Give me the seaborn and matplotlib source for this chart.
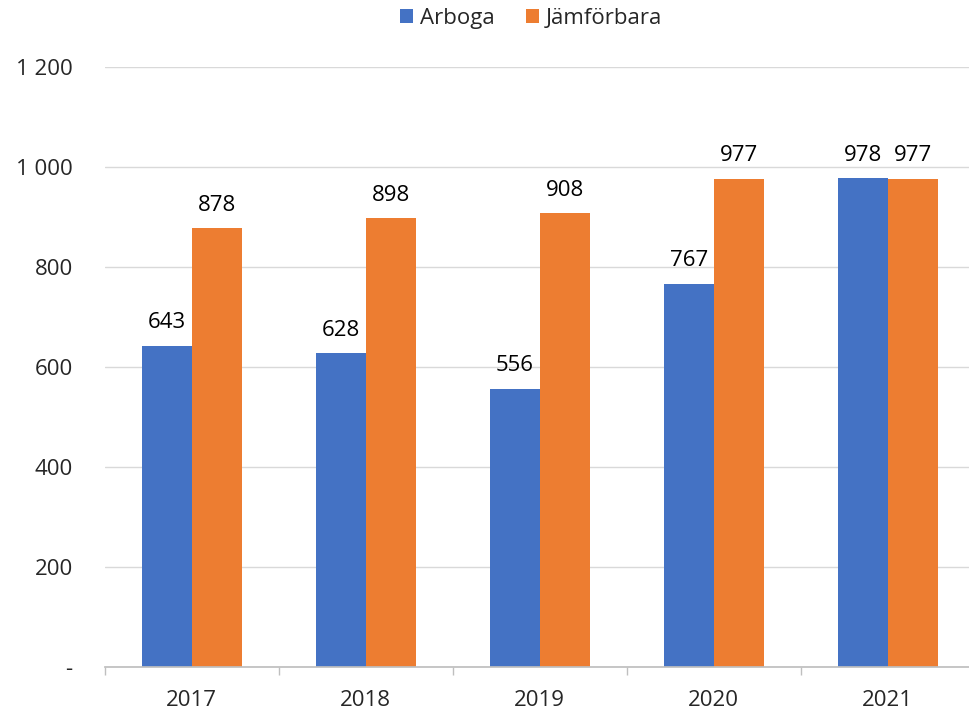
import pandas as pd
import matplotlib
matplotlib.use("Agg")
import matplotlib.pyplot as plt
import seaborn as sns
from matplotlib.ticker import FuncFormatter, FixedLocator

# Data
years = ["2017", "2018", "2019", "2020", "2021"]
arboga = [643, 628, 556, 767, 978]
jamforbara = [878, 898, 908, 977, 977]
series_names = ["Arboga", "Jämförbara"]
colors = ["#4472C4", "#ED7D31"]

df = pd.DataFrame({
    "year": years * 2,
    "value": arboga + jamforbara,
    "series": [series_names[0]] * len(years) + [series_names[1]] * len(years),
})

sns.set_theme(style="white")
plt.rcParams["font.family"] = ["Open Sans", "DejaVu Sans"]
fs = 16

fig = plt.figure(figsize=(9.69, 7.14), dpi=100)
ax = fig.add_axes([0.108, 0.066, 0.898, 0.840])

sns.barplot(data=df, x="year", y="value", hue="series", palette=colors,
            width=0.575, saturation=1, linewidth=0, ax=ax, legend=True)

# value labels above bars
for cont in ax.containers:
    ax.bar_label(cont, labels=[f"{int(v)}" for v in cont.datavalues],
                 padding=9, fontsize=fs, color="#000000")

ax.set_ylim(0, 1200)
ax.set_xlim(-0.5, len(years) - 0.5)
ax.set_yticks(range(0, 1201, 200))
ax.yaxis.set_major_formatter(FuncFormatter(
    lambda v, p: "-" if v == 0 else f"{int(v):,}".replace(",", " ")))
ax.grid(axis="y", color="#D9D9D9", linewidth=1)
ax.set_axisbelow(True)
ax.set_xlabel("")
ax.set_ylabel("")

for s in ["left", "right", "top"]:
    ax.spines[s].set_visible(False)
ax.spines["bottom"].set_color("#BFBFBF")

# category separator ticks
ax.xaxis.set_minor_locator(FixedLocator([i - 0.5 for i in range(len(years) + 1)]))
ax.tick_params(axis="x", which="minor", length=6, color="#BFBFBF", bottom=True)
ax.tick_params(axis="x", which="major", length=0, labelsize=fs, pad=17)
ax.tick_params(axis="y", length=0, labelsize=fs, pad=23)
for lbl in ax.get_yticklabels():
    lbl.set_horizontalalignment("right")

ax.legend(loc="lower center", bbox_to_anchor=(0.49, 1.045), ncol=2, frameon=False,
          fontsize=fs, handlelength=0.6, handleheight=0.6, columnspacing=1.4,
          handletextpad=0.3, borderpad=0)

fig.savefig("out.png", dpi=100)
